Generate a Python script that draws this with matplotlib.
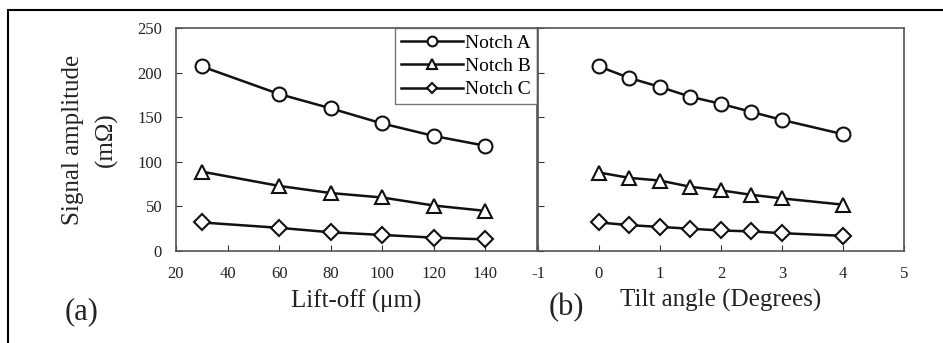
import matplotlib.pyplot as plt
from matplotlib.patches import Rectangle

plt.rcParams['font.family'] = ['Liberation Serif', 'DejaVu Serif']
plt.rcParams['axes.unicode_minus'] = False

# (a) signal vs lift-off
liftoff = [30, 60, 80, 100, 120, 140]
lift_a = [207, 176, 160, 143, 129, 118]
lift_b = [89, 73, 65, 60, 51, 45]
lift_c = [32, 26, 21, 18, 15, 13]

# (b) signal vs tilt angle
tilt = [0, 0.5, 1, 1.5, 2, 2.5, 3, 4]
tilt_a = [207, 194, 184, 173, 165, 156, 147, 131]
tilt_b = [88, 82, 79, 72, 68, 63, 59, 52]
tilt_c = [32, 29, 27, 25, 23, 22, 20, 17]

names = ['Notch A', 'Notch B', 'Notch C']
markers = ['o', '^', 'D']
msizes = [10, 10, 8]

fig = plt.figure(figsize=(9.43, 3.43), dpi=100)
ax1 = fig.add_axes([0.1866, 0.2682, 0.3828, 0.650])
ax2 = fig.add_axes([0.5705, 0.2682, 0.388, 0.650])

for ys, name, m, ms in zip([lift_a, lift_b, lift_c], names, markers, msizes):
    ax1.plot(liftoff, ys, color='#111111', lw=1.8, marker=m, ms=ms,
             mfc='white', mec='#111111', mew=1.5, label=name)
for ys, m, ms in zip([tilt_a, tilt_b, tilt_c], markers, msizes):
    ax2.plot(tilt, ys, color='#111111', lw=1.8, marker=m, ms=ms,
             mfc='white', mec='#111111', mew=1.5)

ax1.set_xlim(20, 160)
ax1.set_xticks([20, 40, 60, 80, 100, 120, 140])
ax1.set_ylim(0, 250)
ax1.set_yticks([0, 50, 100, 150, 200, 250])
ax2.set_xlim(-1, 5)
ax2.set_xticks([-1, 0, 1, 2, 3, 4, 5])
ax2.set_ylim(0, 250)
ax2.set_yticks([0, 50, 100, 150, 200, 250])
ax2.set_yticklabels([])

for ax in (ax1, ax2):
    ax.tick_params(direction='in', labelsize=12, length=4, colors='#333333',
                   labelcolor='#222222')
    ax.tick_params(axis='x', pad=11)
    ax.tick_params(axis='y', pad=10)
    for s in ax.spines.values():
        s.set_color('#555555')
        s.set_linewidth(1.2)

ax1.set_xlabel('Lift-off (μm)', fontsize=18, color='#222222', labelpad=5)
ax2.set_xlabel('Tilt angle (Degrees)', fontsize=18, color='#222222', labelpad=5)
ax1.set_ylabel('Signal amplitude\n(mΩ)', fontsize=18, color='#222222',
               linespacing=1.6, labelpad=14)

leg = ax1.legend(loc='upper right', borderaxespad=0, fontsize=14,
                 handlelength=3.2, handletextpad=0.1, labelspacing=0.3,
                 borderpad=0.3, fancybox=False, edgecolor='#555555',
                 markerscale=0.7)
leg.get_frame().set_linewidth(1.0)

fig.text(0.086, 0.07, '(a)', fontsize=22, color='#222222', ha='center')
fig.text(0.601, 0.08, '(b)', fontsize=22, color='#222222', ha='center')

# outer frame of the figure panel
fig.patches.append(Rectangle((0.0085, -0.1), 1.1, 1.071, transform=fig.transFigure,
                             fill=False, edgecolor='black', lw=1.5))

fig.savefig('out.png', dpi=100)
